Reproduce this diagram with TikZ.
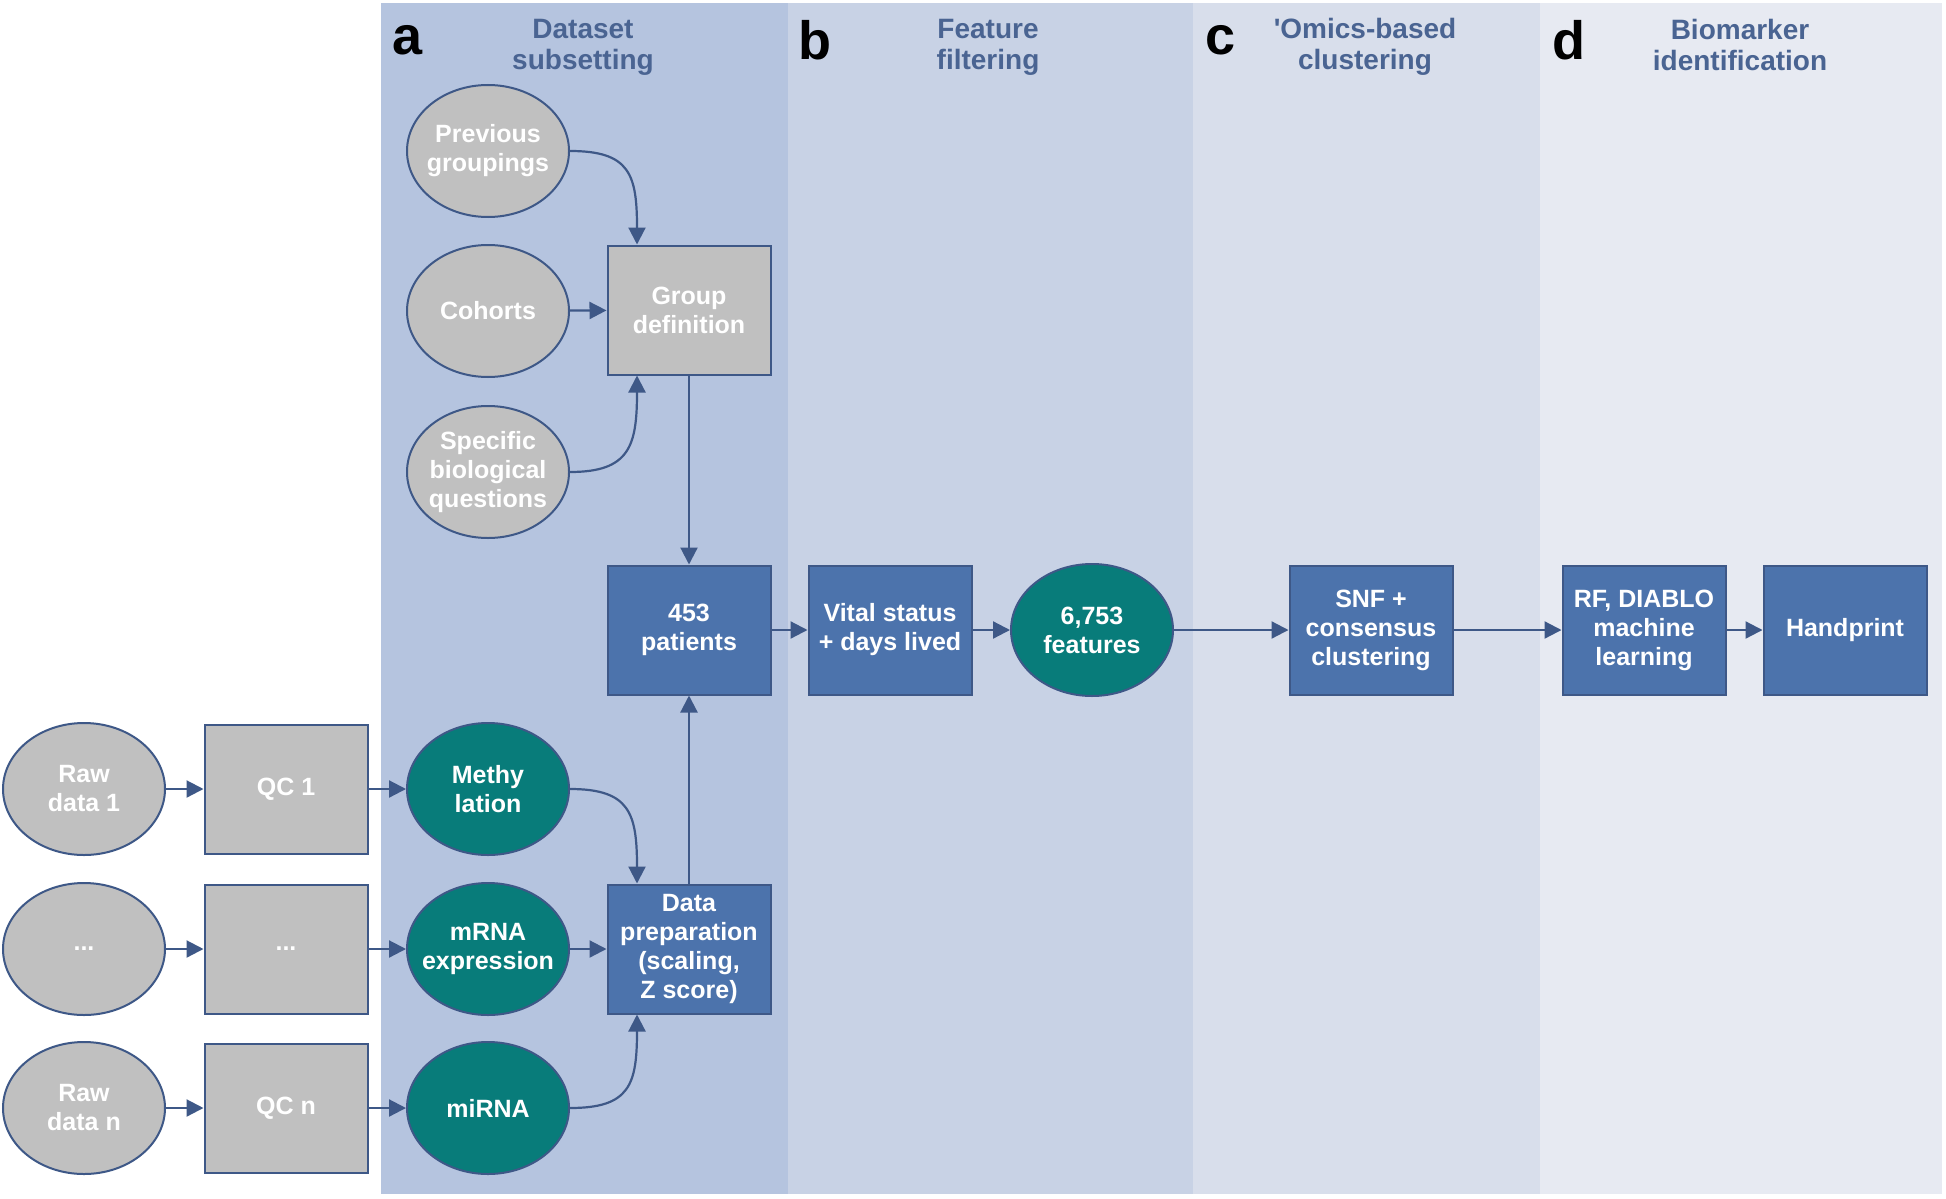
\documentclass[tikz,border=0pt]{standalone}
\usepackage{fontspec}
\setmainfont{Liberation Sans}
\newfontfamily\nolig{Liberation Sans}[Ligatures=TeXOff]
\usetikzlibrary{arrows.meta,shapes.geometric}
\definecolor{pa}{RGB}{181,196,223}
\definecolor{pb}{RGB}{200,210,229}
\definecolor{pc}{RGB}{216,222,235}
\definecolor{pd}{RGB}{231,234,242}
\definecolor{bd}{RGB}{62,88,135}
\definecolor{ar}{RGB}{62,88,135}
\definecolor{gr}{RGB}{192,192,192}
\definecolor{tl}{RGB}{8,124,122}
\definecolor{bl}{RGB}{76,115,172}
\definecolor{tc}{RGB}{74,100,146}
\tikzset{
 nfont/.style={font=\bfseries\fontsize{12.5}{14.5}\selectfont},
 ell/.style={ellipse, draw=bd, line width=1pt, minimum width=81pt, minimum height=66pt, inner sep=-9pt, align=center, text=white, nfont},
 gell/.style={ell, fill=gr},
 tell/.style={ell, fill=tl},
 box/.style={rectangle, draw=bd, line width=1pt, minimum width=81.5pt, minimum height=64.5pt, inner sep=0pt, align=center, text=white, nfont},
 gbox/.style={box, fill=gr},
 bbox/.style={box, fill=bl},
 arr/.style={draw=ar, line width=1.1pt, -{Triangle[length=8.5pt,width=8.5pt]}},
 ttl/.style={text=tc, font=\bfseries\fontsize{14}{15.5}\selectfont, align=center},
 lett/.style={font=\bfseries\fontsize{27}{30}\selectfont}
}
\begin{document}
\begin{tikzpicture}[x=0.5pt,y=-0.5pt]
\useasboundingbox (0,0) rectangle (1946,1198);
\fill[white] (0,0) rectangle (1946,1198);
\fill[pa] (381,3) rectangle (788,1194);
\fill[pb] (788,3) rectangle (1193,1194);
\fill[pc] (1193,3) rectangle (1540,1194);
\fill[pd] (1540,3) rectangle (1942,1194);
% headers
\node[lett] (la) at (408,40) {a};
\node[lett] (lb) at (815,40) {b};
\node[lett] (lc) at (1220,40) {c};
\node[lett] (ld) at (1569,40) {d};
\node[ttl] (ta) at (583,47) {Dataset\\subsetting};
\node[ttl] (tb) at (988,47) {Feature\\filtering};
\node[ttl] (tc) at (1365,47) {{\nolig\bfseries '}Omics-based\\clustering};
\node[ttl] (td) at (1740,44.5) {Biomarker\\identification};
% panel a top
\node[gell] (pg) at (488,151) {Previous\\groupings};
\node[gell] (co) at (488,311) {Cohorts};
\node[gell] (sb) at (488,472) {Specific\\biological\\questions};
\node[gbox] (gd) at (689,310) {Group\\definition};
\node[bbox] (pt) at (689,630) {453\\patients};
\node[bbox] (vs) at (890,630) {Vital status\\+ days lived};
\node[tell] (ft) at (1092,630) {6,753\\features};
\node[bbox] (snf) at (1371,630) {SNF +\\consensus\\clustering};
\node[bbox] (rf) at (1644,630) {RF, DIABLO\\machine\\learning};
\node[bbox] (hp) at (1845,630) {Handprint};
% bottom
\node[gell] (r1) at (84,789) {Raw\\data 1};
\node[gbox] (q1) at (286,789) {QC 1};
\node[tell] (me) at (488,789) {Methy\\lation};
\node[gell] (r2) at (84,949) {...};
\node[gbox] (q2) at (286,949) {...};
\node[tell] (mr) at (488,949) {mRNA\\expression};
\node[gell] (r3) at (84,1108) {Raw\\data n};
\node[gbox] (q3) at (286,1108) {QC n};
\node[tell] (mi) at (488,1108) {miRNA};
\node[bbox] (dp) at (689,949) {Data\\preparation\\(scaling,\\Z score)};
% coordinates
\coordinate (gdt) at ([xshift=-26pt]gd.north);
\coordinate (gdb) at ([xshift=-26pt]gd.south);
\coordinate (dpt) at ([xshift=-26pt]dp.north);
\coordinate (dpb) at ([xshift=-26pt]dp.south);
% edges
\draw[arr] (pg.east) .. controls +(60,0) and +(0,-70) .. (gdt);
\draw[arr] (co) -- (gd);
\draw[arr] (sb.east) .. controls +(60,0) and +(0,70) .. (gdb);
\draw[arr] (gd) -- (pt);
\draw[arr] (dp) -- (pt);
\draw[arr] (me.east) .. controls +(60,0) and +(0,-70) .. (dpt);
\draw[arr] (mr) -- (dp);
\draw[arr] (mi.east) .. controls +(60,0) and +(0,70) .. (dpb);
\draw[arr] (r1) -- (q1);
\draw[arr] (q1) -- (me);
\draw[arr] (r2) -- (q2);
\draw[arr] (q2) -- (mr);
\draw[arr] (r3) -- (q3);
\draw[arr] (q3) -- (mi);
\draw[arr] (pt) -- (vs);
\draw[arr] (vs) -- (ft);
\draw[arr] (ft) -- (snf);
\draw[arr] (snf) -- (rf);
\draw[arr] (rf) -- (hp);
\end{tikzpicture}
\end{document}
